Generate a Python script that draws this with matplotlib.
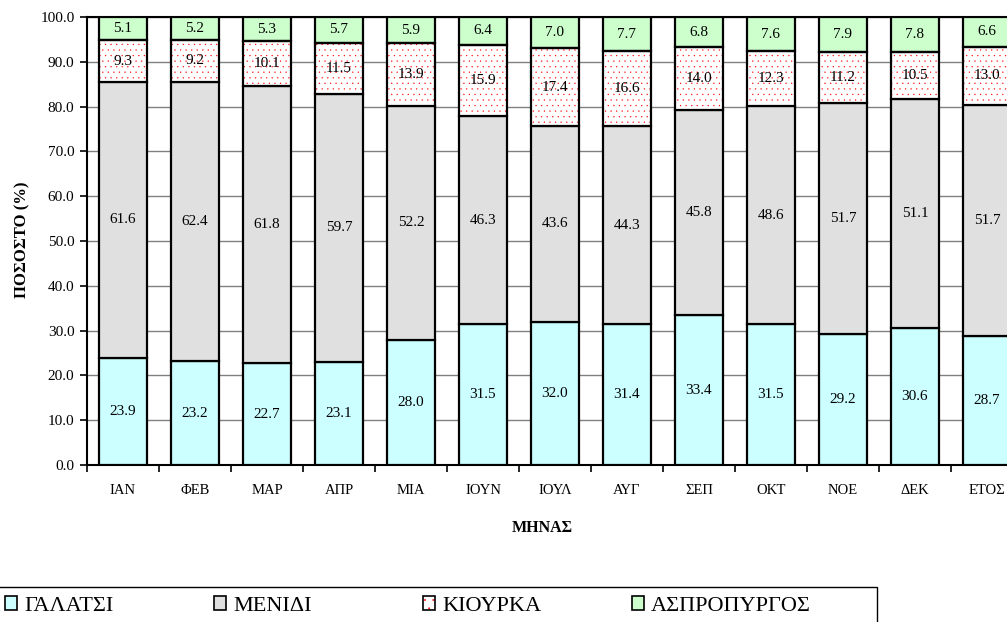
import numpy as np
import matplotlib
matplotlib.use('Agg')
from matplotlib import pyplot as plt
from matplotlib.patches import Rectangle, Patch

plt.rcParams['font.family'] = ['Liberation Serif', 'DejaVu Serif']
plt.rcParams['hatch.linewidth'] = 0.15

months = ['ΙΑΝ', 'ΦΕΒ', 'ΜΑΡ', 'ΑΠΡ', 'ΜΙΑ', 'ΙΟΥΝ', 'ΙΟΥΛ', 'ΑΥΓ', 'ΣΕΠ',
          'ΟΚΤ', 'ΝΟΕ', 'ΔΕΚ', 'ΕΤΟΣ']
galatsi = [23.9, 23.2, 22.7, 23.1, 28.0, 31.5, 32.0, 31.4, 33.4, 31.5, 29.2, 30.6, 28.7]
menidi = [61.6, 62.4, 61.8, 59.7, 52.2, 46.3, 43.6, 44.3, 45.8, 48.6, 51.7, 51.1, 51.7]
kiourka = [9.3, 9.2, 10.1, 11.5, 13.9, 15.9, 17.4, 16.6, 14.0, 12.3, 11.2, 10.5, 13.0]
aspropyrgos = [5.1, 5.2, 5.3, 5.7, 5.9, 6.4, 7.0, 7.7, 6.8, 7.6, 7.9, 7.8, 6.6]
series_names = ['ΓΑΛΑΤΣΙ', 'ΜΕΝΙΔΙ', 'ΚΙΟΥΡΚΑ', 'ΑΣΠΡΟΠΥΡΓΟΣ']

W, H = 1007, 622
fig = plt.figure(figsize=(W/100, H/100), dpi=100)
# plot area runs past the right edge like in the original
ax = fig.add_axes([87/W, 157/H, 936/W, 448/H])

x = np.arange(len(months))
width = 0.667
series = [galatsi, menidi, kiourka, aspropyrgos]
colors = ['#CCFFFF', '#E0E0E0', 'white', '#CCFFCC']
bottom = np.zeros(len(months))
for vals, col in zip(series, colors):
    vals = np.array(vals)
    if col == 'white':
        # dotted fill: red hatch, then black outline on top
        ax.bar(x, vals, width, bottom=bottom, color='white', edgecolor='red',
               hatch='...', linewidth=0, zorder=3)
        ax.bar(x, vals, width, bottom=bottom, fill=False, edgecolor='black',
               linewidth=1.6, zorder=4)
    else:
        ax.bar(x, vals, width, bottom=bottom, color=col, edgecolor='black',
               linewidth=1.6, zorder=3)
    for xi, b, v in zip(x, bottom, vals):
        ax.text(xi, b + v/2, f'{v:.1f}', ha='center', va='center', fontsize=11,
                zorder=5)
    bottom += vals

ax.set_xlim(-0.5, len(months) - 0.5)
ax.set_ylim(0, 100)
ax.set_yticks(np.arange(0, 101, 10))
ax.set_yticklabels([f'{v:.1f}' for v in np.arange(0, 101, 10)], fontsize=11)
ax.set_xticks(x)
ax.set_xticklabels(months, fontsize=10.5)
ax.set_xticks(np.arange(-0.5, len(months), 1), minor=True)
ax.tick_params(axis='x', which='major', length=0, pad=14)
ax.tick_params(axis='x', which='minor', length=5, width=1.2, direction='out')
ax.tick_params(axis='y', length=5, width=1.2, direction='out', pad=4)
ax.yaxis.grid(True, color='#808080', linewidth=1.0, zorder=0)
ax.set_axisbelow(True)
for side in ['left', 'bottom', 'top']:
    ax.spines[side].set_linewidth(1.5)
ax.spines['right'].set_visible(False)

fig.text(22/W, 1 - 240/H, 'ΠΟΣΟΣΤΟ (%)', rotation=90, ha='center', va='center',
         fontsize=12, fontweight='bold')
fig.text(542/W, 1 - 528/H, 'ΜΗΝΑΣ', ha='center', va='center',
         fontsize=11.5, fontweight='bold')

# legend box along the bottom, one entry per fixed-width column
fig.patches.append(Rectangle((-2/W, -10/H), 879/W, (622 - 587 + 10)/H,
                             transform=fig.transFigure, fill=False,
                             edgecolor='black', linewidth=1.0))
for i, (name, col) in enumerate(zip(series_names, colors)):
    if col == 'white':
        # red dots with a black outline on top
        handle = (Patch(facecolor='white', edgecolor='red', linewidth=0, hatch='..'),
                  Patch(fill=False, edgecolor='black', linewidth=1.2))
    else:
        handle = Patch(facecolor=col, edgecolor='black', linewidth=1.2)
    leg = fig.legend([handle], [name], loc='center left',
                     bbox_to_anchor=((5 + 209*i)/W, 1 - 606/H), frameon=False,
                     fontsize=16, handlelength=0.55, handleheight=0.55,
                     handletextpad=0.3, borderpad=0, borderaxespad=0)

fig.savefig('out.png', dpi=100)
